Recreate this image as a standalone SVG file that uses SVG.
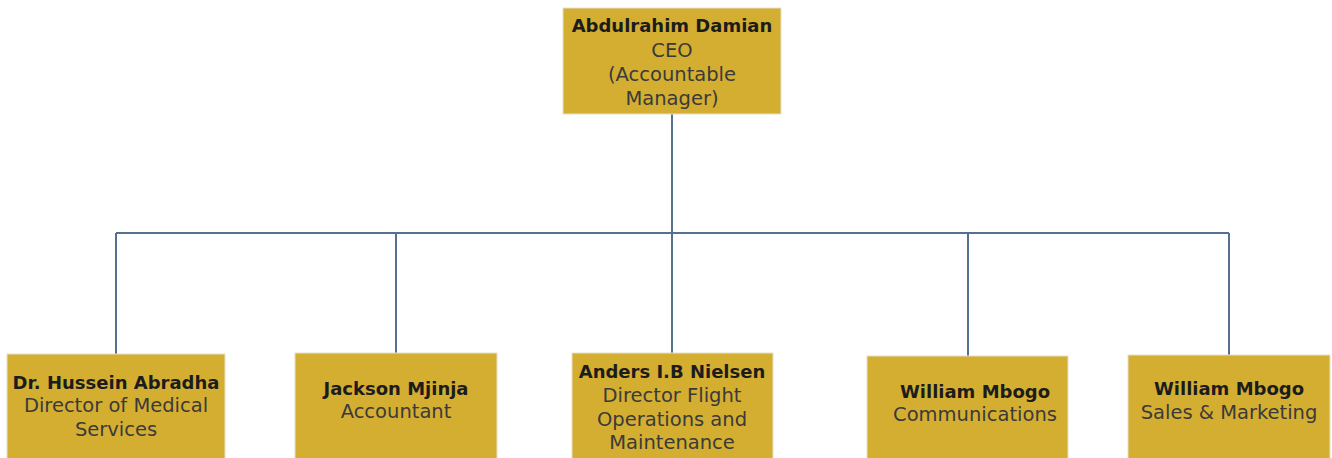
<svg xmlns="http://www.w3.org/2000/svg" width="1332" height="458" viewBox="0 0 1332 458">
<style>
.box{fill:#d4ae31;stroke:#e6e0cc;stroke-width:1}
.n{font-family:"DejaVu Sans","Liberation Sans",sans-serif;font-size:18px;font-weight:bold;fill:#1c1c1c;text-anchor:middle}
.t{font-family:"DejaVu Sans","Liberation Sans",sans-serif;font-size:19.5px;fill:#3a3a3a;text-anchor:middle}
.c{stroke:#56708f;stroke-width:2;fill:none}
</style>
<rect width="1332" height="458" fill="#ffffff"/>
<g id="connectors">
<path class="c" d="M672 114V233M116 233H1229M116 233V354M396 233V353M672 233V353M968 233V356M1229 233V355"/>
</g>
<g id="ceo">
<rect class="box" x="563" y="8" width="218" height="106"/>
<text class="n" x="672" y="32">Abdulrahim Damian</text>
<text class="t" x="672" y="57">CEO</text>
<text class="t" x="672" y="81">(Accountable</text>
<text class="t" x="672" y="105">Manager)</text>
</g>
<g id="medical">
<rect class="box" x="7" y="354" width="218" height="110"/>
<text class="n" x="116" y="389">Dr. Hussein Abradha</text>
<text class="t" x="116" y="412">Director of Medical</text>
<text class="t" x="116" y="436">Services</text>
</g>
<g id="accountant">
<rect class="box" x="295" y="353" width="202" height="110"/>
<text class="n" x="396" y="395">Jackson Mjinja</text>
<text class="t" x="396" y="418">Accountant</text>
</g>
<g id="flightops">
<rect class="box" x="572" y="353" width="201" height="110"/>
<text class="n" x="672" y="378">Anders I.B Nielsen</text>
<text class="t" x="672" y="402">Director Flight</text>
<text class="t" x="672" y="426">Operations and</text>
<text class="t" x="672" y="449">Maintenance</text>
</g>
<g id="communications">
<rect class="box" x="867" y="356" width="201" height="110"/>
<text class="n" x="975" y="398">William Mbogo</text>
<text class="t" x="975" y="421">Communications</text>
</g>
<g id="sales">
<rect class="box" x="1128" y="355" width="202" height="110"/>
<text class="n" x="1229" y="395">William Mbogo</text>
<text class="t" x="1229" y="419">Sales &amp; Marketing</text>
</g>
</svg>
